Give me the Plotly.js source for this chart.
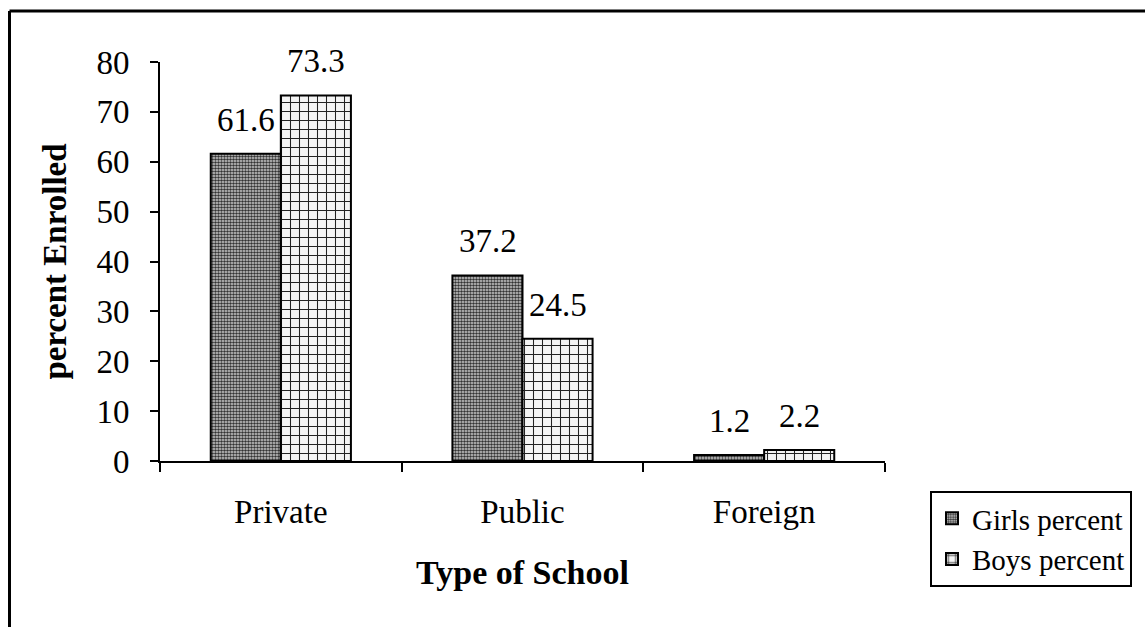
<!DOCTYPE html>
<html>
<head>
<meta charset="utf-8">
<script src="https://cdn.plot.ly/plotly-3.0.1.min.js"></script>
<style>
  html, body { margin: 0; padding: 0; background: #ffffff; }
  #chart { width: 1145px; height: 627px; }
</style>
</head>
<body>
<div id="chart"></div>
<script>
// Enrolment share by type of school
const schoolTypes = ["Private", "Public", "Foreign"];
const girlsPercent = [61.6, 37.2, 1.2];
const boysPercent = [73.3, 24.5, 2.2];
const yTicks = [0, 10, 20, 30, 40, 50, 60, 70, 80];

const serif = '"Liberation Serif", "Times New Roman", Times, serif';
const ink = '#000000';

const girls = {
  type: 'bar',
  name: 'Girls percent',
  x: schoolTypes,
  y: girlsPercent,
  marker: {
    color: '#9a9a9a',
    line: { color: ink, width: 2 },
    pattern: { shape: '.', size: 3, solidity: 0.55, fgcolor: '#333333', bgcolor: '#d0d0d0' }
  },
  hoverinfo: 'x+y'
};

const boys = {
  type: 'bar',
  name: 'Boys percent',
  x: schoolTypes,
  y: boysPercent,
  marker: {
    color: '#f4f4f4',
    line: { color: ink, width: 2 },
    pattern: { shape: '+', size: 9, solidity: 0.22, fgcolor: '#222222', bgcolor: '#f4f4f4' }
  },
  hoverinfo: 'x+y'
};

// value labels sit above each bar, offset to the bar's slot in the group
const barOffset = 35;
const valueLabels = [];
schoolTypes.forEach((cat, i) => {
  valueLabels.push({ x: cat, y: girlsPercent[i], text: String(girlsPercent[i]), xshift: -barOffset });
  valueLabels.push({ x: cat, y: boysPercent[i], text: String(boysPercent[i]), xshift: barOffset });
});
const annotations = valueLabels.map(l => ({
  x: l.x, y: l.y, xref: 'x', yref: 'y',
  text: l.text, showarrow: false,
  xanchor: 'center', yanchor: 'bottom',
  xshift: l.xshift, yshift: 14,
  font: { family: serif, size: 33, color: ink }
}));

// outer frame (top and left edges)
const frameX = (9.5 - 160) / 725;
const frameY = (461 - 11) / 399;
const shapes = [
  { type: 'line', xref: 'paper', yref: 'paper', x0: frameX, x1: 1.5, y0: frameY, y1: frameY, line: { color: ink, width: 3 } },
  { type: 'line', xref: 'paper', yref: 'paper', x0: frameX, x1: frameX, y0: frameY, y1: -1, line: { color: ink, width: 3 } }
];

const layout = {
  width: 1145,
  height: 627,
  margin: { l: 160, r: 260, t: 62, b: 166 },
  paper_bgcolor: '#ffffff',
  plot_bgcolor: '#ffffff',
  font: { family: serif, size: 33, color: ink },
  barmode: 'group',
  bargap: 0.42,
  bargroupgap: 0,
  showlegend: true,
  legend: {
    x: (930 - 160) / 725, xanchor: 'left',
    y: (461 - 491) / 399, yanchor: 'top',
    bordercolor: ink, borderwidth: 2, bgcolor: '#ffffff',
    font: { family: serif, size: 29, color: ink },
    tracegroupgap: 0, itemwidth: 30
  },
  xaxis: {
    type: 'category',
    showline: true, linecolor: ink, linewidth: 2,
    ticks: 'outside', tickson: 'boundaries', ticklen: 9, tickwidth: 2, tickcolor: ink,
    ticklabelstandoff: 20,
    showgrid: false, zeroline: false,
    tickfont: { family: serif, size: 33, color: ink },
    title: { text: '<b>Type of School</b>', font: { family: serif, size: 34, color: ink }, standoff: 32 }
  },
  yaxis: {
    range: [0, 80],
    tickvals: yTicks,
    ticktext: yTicks.map(String),
    showline: true, linecolor: ink, linewidth: 2,
    ticks: 'outside', ticklen: 8, tickwidth: 2, tickcolor: ink,
    ticklabelstandoff: 14,
    showgrid: false, zeroline: false,
    tickfont: { family: serif, size: 33, color: ink },
    title: { text: '<b>percent Enrolled</b>', font: { family: serif, size: 33, color: ink }, standoff: 20 }
  },
  annotations: annotations,
  shapes: shapes
};

Plotly.newPlot('chart', [girls, boys], layout, { displayModeBar: false, staticPlot: true });
</script>
</body>
</html>
